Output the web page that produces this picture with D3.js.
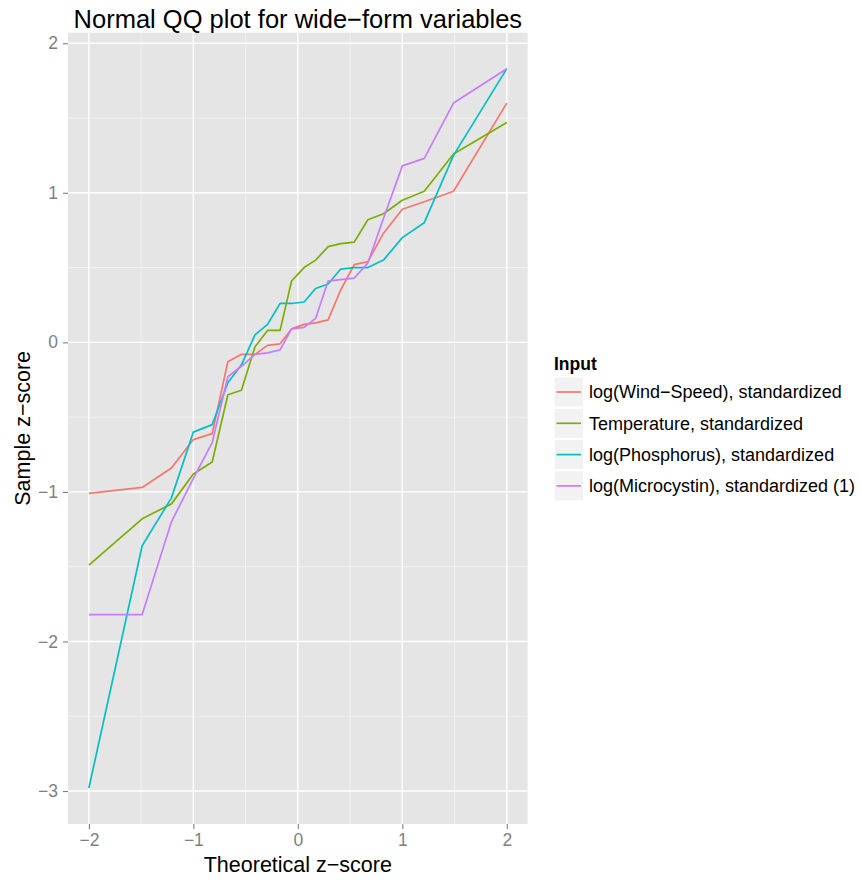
<!DOCTYPE html>
<html>
<head>
<meta charset="utf-8">
<script src="https://cdn.jsdelivr.net/npm/d3@7"></script>
<style>
  body { margin: 0; background: #fff; }
  svg { font-family: "Liberation Sans", Arial, Helvetica, sans-serif; }
</style>
</head>
<body>
<div id="chart"></div>
<script>
// theoretical normal quantiles (22 points)
var theoretical = [-2.00, -1.49, -1.21, -1.00, -0.82, -0.67, -0.54, -0.41, -0.29, -0.17, -0.06,
                    0.06, 0.17, 0.29, 0.41, 0.54, 0.67, 0.82, 1.00, 1.21, 1.49, 2.00];

var windSpeed   = [-1.01, -0.97, -0.84, -0.65, -0.61, -0.13, -0.08, -0.08, -0.02, -0.01, 0.09,
                    0.12, 0.13, 0.15, 0.35, 0.52, 0.54, 0.73, 0.89, 0.94, 1.01, 1.60];
var temperature = [-1.49, -1.18, -1.08, -0.88, -0.80, -0.35, -0.32, -0.03, 0.08, 0.08, 0.41,
                    0.50, 0.55, 0.64, 0.66, 0.67, 0.82, 0.86, 0.95, 1.01, 1.26, 1.47];
var phosphorus  = [-2.98, -1.36, -1.04, -0.60, -0.55, -0.27, -0.15, 0.05, 0.12, 0.26, 0.26,
                    0.27, 0.36, 0.39, 0.49, 0.50, 0.50, 0.55, 0.70, 0.80, 1.25, 1.83];
var microcystin = [-1.82, -1.82, -1.20, -0.91, -0.67, -0.23, -0.16, -0.08, -0.07, -0.05, 0.09,
                    0.10, 0.16, 0.41, 0.42, 0.43, 0.53, 0.83, 1.18, 1.23, 1.60, 1.83];

var seriesNames = ["log(Wind\u2212Speed), standardized", "Temperature, standardized",
                   "log(Phosphorus), standardized", "log(Microcystin), standardized (1)"];
var seriesValues = [windSpeed, temperature, phosphorus, microcystin];
var colors = ["#F8766D", "#7CAE00", "#00BFC4", "#C77CFF"];

var xTicks = [-2, -1, 0, 1, 2];
var xMinor = [-1.5, -0.5, 0.5, 1.5];
var yTicks = [-3, -2, -1, 0, 1, 2];
var yMinor = [-2.5, -1.5, -0.5, 0.5, 1.5];

var W = 861, H = 880;
var panel = { left: 68, right: 527.7, top: 32.7, bottom: 824 };

// ggplot style 5% expansion
function expand(ext) {
    var pad = (ext[1] - ext[0]) * 0.05;
    return [ext[0] - pad, ext[1] + pad];
}
var allY = [].concat.apply([], seriesValues);

var x = d3.scaleLinear()
    .domain(expand(d3.extent(theoretical)))
    .range([panel.left, panel.right]);
var y = d3.scaleLinear()
    .domain(expand(d3.extent(allY)))
    .range([panel.bottom, panel.top]);

var svg = d3.select("#chart").append("svg")
    .attr("width", W)
    .attr("height", H);

svg.append("rect")
    .attr("x", panel.left).attr("y", panel.top)
    .attr("width", panel.right - panel.left)
    .attr("height", panel.bottom - panel.top)
    .attr("fill", "#e5e5e5");

// grid lines
var grid = svg.append("g");
grid.selectAll(".xminor").data(xMinor).enter().append("line")
    .attr("x1", d => x(d)).attr("x2", d => x(d))
    .attr("y1", panel.top).attr("y2", panel.bottom)
    .attr("stroke", "#f7f7f7").attr("stroke-width", 0.7);
grid.selectAll(".yminor").data(yMinor).enter().append("line")
    .attr("y1", d => y(d)).attr("y2", d => y(d))
    .attr("x1", panel.left).attr("x2", panel.right)
    .attr("stroke", "#f7f7f7").attr("stroke-width", 0.7);
grid.selectAll(".xmajor").data(xTicks).enter().append("line")
    .attr("x1", d => x(d)).attr("x2", d => x(d))
    .attr("y1", panel.top).attr("y2", panel.bottom)
    .attr("stroke", "#fff").attr("stroke-width", 1.4);
grid.selectAll(".ymajor").data(yTicks).enter().append("line")
    .attr("y1", d => y(d)).attr("y2", d => y(d))
    .attr("x1", panel.left).attr("x2", panel.right)
    .attr("stroke", "#fff").attr("stroke-width", 1.4);

// axes
var xAxis = d3.axisBottom(x)
    .tickValues(xTicks)
    .tickSize(5)
    .tickPadding(4)
    .tickFormat(d => d < 0 ? "\u2212" + Math.abs(d) : d);
var yAxis = d3.axisLeft(y)
    .tickValues(yTicks)
    .tickSize(5)
    .tickPadding(5)
    .tickFormat(d => d < 0 ? "\u2212" + Math.abs(d) : d);

var gx = svg.append("g")
    .attr("transform", `translate(0,${panel.bottom})`)
    .call(xAxis);
var gy = svg.append("g")
    .attr("transform", `translate(${panel.left},0)`)
    .call(yAxis);

[gx, gy].forEach(function (g) {
    g.select(".domain").remove();
    g.selectAll(".tick line").attr("stroke", "#7f7f7f").attr("stroke-width", 1.1);
    g.selectAll(".tick text")
        .attr("fill", "#7f7f7f")
        .style("font-size", "17.5px")
        .style("font-family", "'Liberation Sans', Arial, sans-serif");
});
gx.selectAll(".tick text").attr("dy", "0.75em");

// lines
var line = d3.line()
    .x((d, i) => x(theoretical[i]))
    .y(d => y(d));

svg.append("g").selectAll("path")
    .data(seriesValues)
    .enter().append("path")
    .attr("d", d => line(d))
    .attr("fill", "none")
    .attr("stroke", (d, i) => colors[i])
    .attr("stroke-width", 1.7)
    .attr("stroke-linejoin", "round");

// titles
svg.append("text")
    .attr("x", (panel.left + panel.right) / 2)
    .attr("y", 28.3)
    .attr("text-anchor", "middle")
    .style("font-size", "25.5px")
    .text("Normal QQ plot for wide\u2212form variables");

svg.append("text")
    .attr("x", (panel.left + panel.right) / 2)
    .attr("y", 872)
    .attr("text-anchor", "middle")
    .style("font-size", "21.5px")
    .text("Theoretical z\u2212score");

svg.append("text")
    .attr("transform", `translate(29.5,${(panel.top + panel.bottom) / 2}) rotate(-90)`)
    .attr("text-anchor", "middle")
    .style("font-size", "21.5px")
    .text("Sample z\u2212score");

// legend
var legend = svg.append("g").attr("transform", "translate(554,0)");
legend.append("text")
    .attr("x", 0).attr("y", 370)
    .style("font-size", "17.5px")
    .style("font-weight", "bold")
    .text("Input");

var keys = legend.selectAll(".key")
    .data(seriesNames)
    .enter().append("g")
    .attr("class", "key")
    .attr("transform", (d, i) => `translate(0,${377 + i * 31.3})`);

keys.append("rect")
    .attr("width", 29.5).attr("height", 30)
    .attr("fill", "#f2f2f2")
    .attr("stroke", "#fff").attr("stroke-width", 1);
keys.append("line")
    .attr("x1", 2.5).attr("x2", 27)
    .attr("y1", 15).attr("y2", 15)
    .attr("stroke", (d, i) => colors[i])
    .attr("stroke-width", 1.7);
keys.append("text")
    .attr("x", 35).attr("y", 15)
    .attr("dy", "0.36em")
    .style("font-size", "18px")
    .text(d => d);
</script>
</body>
</html>
